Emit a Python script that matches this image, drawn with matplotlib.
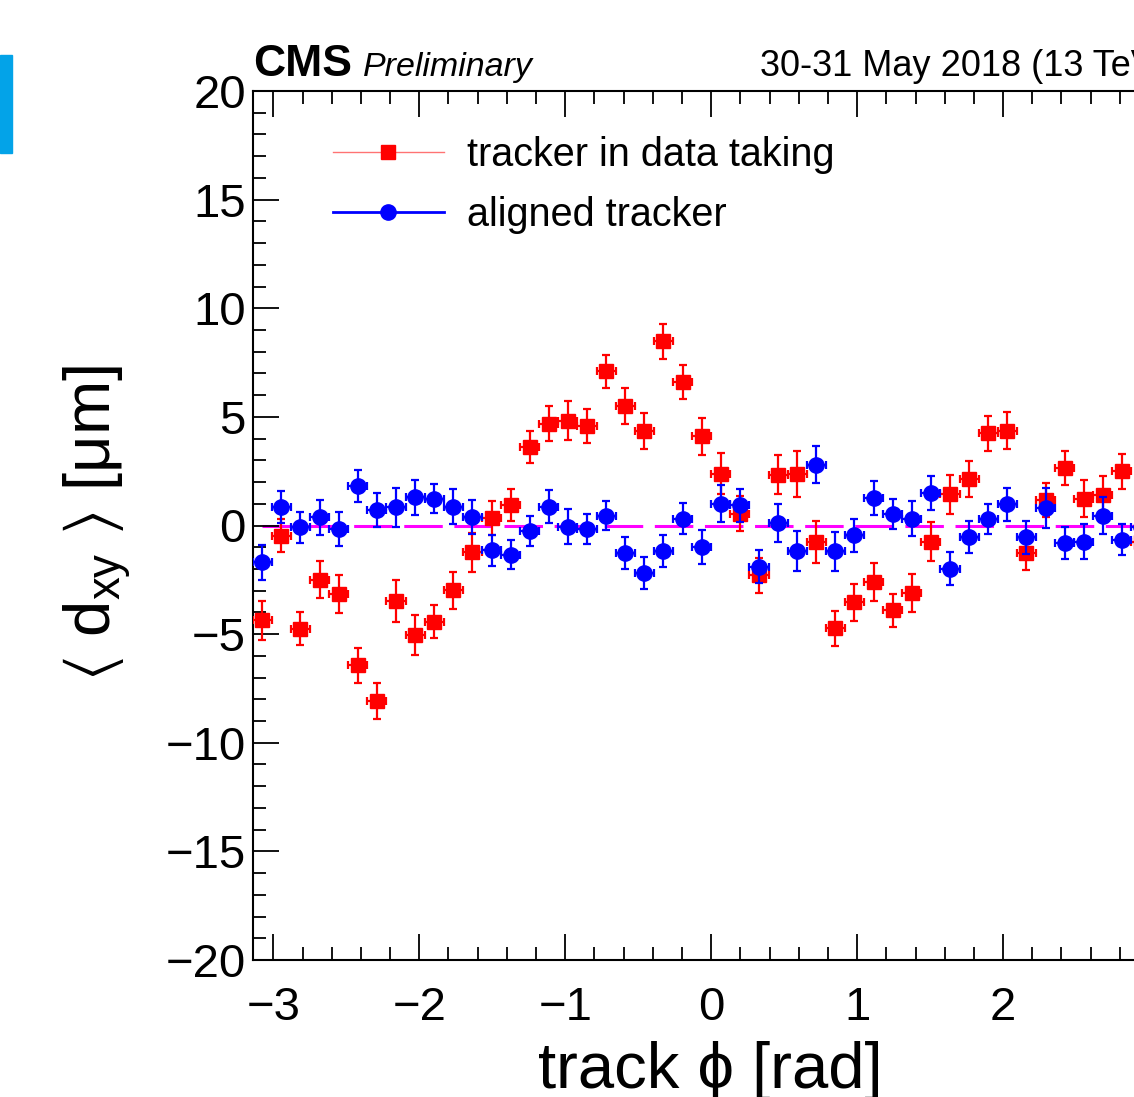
import numpy as np
import matplotlib
matplotlib.use("Agg")
import matplotlib.pyplot as plt
from matplotlib.lines import Line2D
from matplotlib.patches import Rectangle

plt.rcParams['font.family'] = ['Liberation Sans', 'DejaVu Sans']
plt.rcParams['mathtext.fontset'] = 'custom'
plt.rcParams['mathtext.rm'] = 'Liberation Sans'
plt.rcParams['mathtext.it'] = 'Liberation Sans:italic'
plt.rcParams['mathtext.fallback'] = 'stixsans'

# 48 bins over [-pi, pi]; only the first 47 are readable in the picture
n_bins = 48
bin_index = np.arange(47)

red_vals = [-4.37, -0.47, -4.75, -2.5, -3.14, -6.44, -8.08, -3.48, -5.02, -4.42,
            -2.99, -1.24, 0.35, 0.93, 3.62, 4.68, 4.83, 4.57, 7.09, 5.51,
            4.34, 8.48, 6.61, 4.10, 2.38, 0.54, -2.30, 2.33, 2.38, -0.76,
            -4.74, -3.54, -2.61, -3.91, -3.11, -0.75, 1.44, 2.15, 4.25, 4.37,
            -1.26, 1.18, 2.64, 1.23, 1.40, 2.50, -0.78]
red_err = [0.89, 0.75, 0.77, 0.85, 0.88, 0.82, 0.81, 0.96, 0.92, 0.77,
           0.87, 0.88, 0.80, 0.73, 0.74, 0.81, 0.90, 0.78, 0.78, 0.82,
           0.83, 0.80, 0.80, 0.85, 0.94, 0.80, 0.80, 0.90, 1.05, 0.95,
           0.80, 0.86, 0.88, 0.77, 0.87, 0.89, 0.89, 0.83, 0.80, 0.84,
           0.79, 0.77, 0.77, 0.86, 0.90, 0.80, 0.80]

blue_vals = [-1.70, 0.86, -0.09, 0.38, -0.17, 1.81, 0.72, 0.84, 1.30, 1.24,
             0.87, 0.41, -1.15, -1.35, -0.26, 0.87, -0.05, -0.15, 0.45, -1.26,
             -2.18, -1.17, 0.31, -1.01, 1.01, 0.93, -1.89, 0.12, -1.17, 2.80,
             -1.18, -0.46, 1.26, 0.54, 0.31, 1.50, -1.98, -0.54, 0.29, 0.97,
             -0.54, 0.80, -0.81, -0.75, 0.45, -0.66, -0.08]
blue_err = [0.82, 0.75, 0.72, 0.80, 0.79, 0.73, 0.77, 0.89, 0.80, 0.68,
            0.79, 0.78, 0.73, 0.66, 0.69, 0.75, 0.80, 0.68, 0.68, 0.74,
            0.75, 0.73, 0.72, 0.78, 0.86, 0.77, 0.74, 0.86, 0.92, 0.84,
            0.90, 0.77, 0.79, 0.70, 0.81, 0.78, 0.78, 0.73, 0.69, 0.75,
            0.75, 0.92, 0.73, 0.80, 0.84, 0.71, 0.80]

width = 2 * np.pi / n_bins
x = -np.pi + (bin_index + 0.5) * width

W, H = 1134, 1097
fig = plt.figure(figsize=(W / 100, H / 100), dpi=100)
ax = fig.add_axes([252.7 / W, (H - 960) / H, 917 / W, 869 / H])

# zero line, dashes are scaled by the line width
ax.plot([x[0], np.pi], [0, 0], color='#ff00ff', lw=2.2,
        linestyle=(2.8, (12.6, 3.8)), dash_capstyle='butt', zorder=1)

ax.errorbar(x, red_vals, yerr=red_err, xerr=width / 2, fmt='s', color='red',
            ms=10, elinewidth=1.6, capsize=3, capthick=1.6, zorder=3)
ax.errorbar(x, blue_vals, yerr=blue_err, xerr=width / 2, fmt='o', color='blue',
            ms=11, elinewidth=1.6, capsize=3, capthick=1.6, zorder=4)

ax.set_xlim(-np.pi, np.pi)
ax.set_ylim(-20, 20)
ax.set_xticks([-3, -2, -1, 0, 1, 2, 3])
ax.set_xticks(np.arange(-3.0, 3.01, 0.2), minor=True)
ax.set_yticks(np.arange(-20, 21, 5))
ax.set_yticks(np.arange(-20, 21, 1), minor=True)
ax.set_xticklabels(['\u22123', '\u22122', '\u22121', '0', '1', '2', '3'])
ax.set_yticklabels(['\u221220', '\u221215', '\u221210', '\u22125', '0', '5', '10', '15', '20'])
ax.tick_params(which='both', direction='in', top=True, right=True, width=1.3,
               labelsize=34)
ax.tick_params(which='major', length=19)
ax.tick_params(which='minor', length=9.5)
ax.tick_params(axis='x', pad=19)
ax.tick_params(axis='y', pad=5)
for s in ax.spines.values():
    s.set_linewidth(1.5)

handles = [Line2D([], [], color=(1, 0, 0, 0.55), lw=1, marker='s', ms=10,
                  markerfacecolor='red', markeredgecolor='red'),
           Line2D([], [], color='blue', lw=2, marker='o', ms=11)]
leg = ax.legend(handles, ['tracker in data taking', 'aligned tracker'],
                loc='upper left', bbox_to_anchor=(333 / W, (H - 136) / H),
                bbox_transform=fig.transFigure, frameon=False, fontsize=28.5,
                handlelength=2.8, handletextpad=0.58, labelspacing=0.55,
                borderpad=0, borderaxespad=0)

fig.text(253 / W, (H - 76) / H, 'CMS', fontsize=32, fontweight='bold', va='baseline')
fig.text(363 / W, (H - 76) / H, 'Preliminary', fontsize=24.5, fontstyle='italic', va='baseline')
fig.text(760 / W, (H - 76.5) / H, '30-31 May 2018 (13 TeV)', fontsize=26, va='baseline')

fig.text(710 / W, (H - 1088) / H, 'track \u03d5 [rad]', fontsize=47, ha='center', va='baseline')
fig.text(98 / W, (H - 523) / H, '$\\langle$ d$_{\\mathrm{xy}}$ $\\rangle$ [\u03bcm]', fontsize=47,
         rotation=90, ha='center', va='center')

fig.patches.append(Rectangle((0, (H - 153) / H), 12 / W, 98 / H, color='#03a3e8',
                             transform=fig.transFigure, figure=fig))

fig.savefig('out.png', dpi=100)
